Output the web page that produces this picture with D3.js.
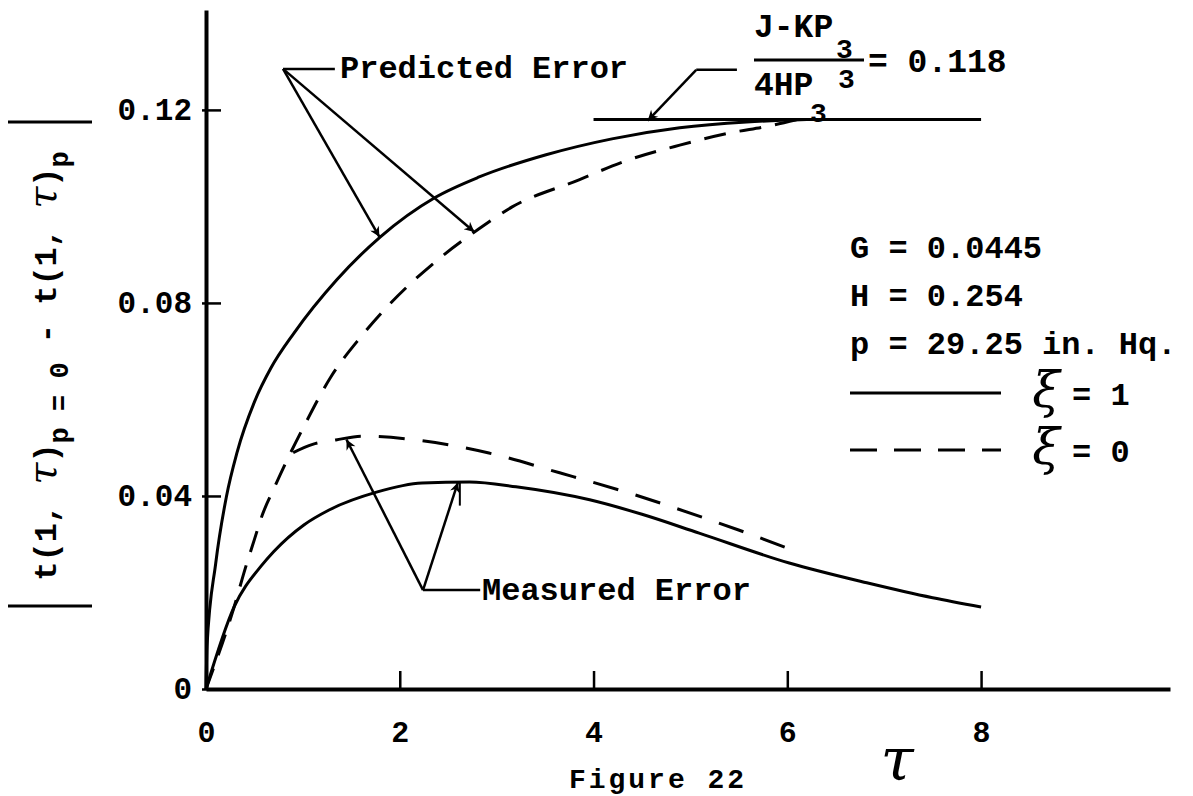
<!DOCTYPE html>
<html>
<head>
<meta charset="utf-8">
<script src="https://cdn.jsdelivr.net/npm/d3@7"></script>
<style>
  body { margin: 0; background: #fff; }
  text { font-family: 'Liberation Mono', 'DejaVu Sans Mono', monospace; font-weight: bold; fill: #000; }
</style>
</head>
<body>
<div id="chart"></div>
<script>
// Datos
const xTicks = [0, 2, 4, 6, 8];
const yTicks = [0, 0.04, 0.08, 0.12];
const asymptote = 0.118;
const asymptoteRange = [4, 8];

// Predicted error, xi = 1 (solid)
const predictedXi1 = [[0,0],[0.01,0.0087],[0.1,0.026],[0.21,0.0398],[0.32,0.049],[0.5,0.0595],[0.67,0.0665],
  [0.91,0.0738],[1.35,0.0848],[1.8,0.0937],[2.36,0.1018],[2.82,0.1061],[3.51,0.1107],[4.19,0.114],
  [4.89,0.1163],[5.58,0.1175],[6.2,0.118]];
// Predicted error, xi = 0 (dashed)
const predictedXi0 = [[0,0],[0.29,0.017],[0.41,0.0253],[0.5,0.031],[0.58,0.036],[0.7,0.0415],[0.85,0.048],
  [1.0,0.054],[1.29,0.0647],[1.6,0.073],[1.87,0.0792],[2.39,0.0889],[2.8,0.0951],[3.16,0.0999],
  [3.85,0.1055],[4.3,0.1092],[4.89,0.1127],[5.4,0.1152],[5.82,0.1167],[6.1,0.118]];
// Measured error, xi = 1 (solid)
const measuredXi1 = [[0,0],[0.29,0.017],[0.57,0.0255],[0.7,0.0285],[1.01,0.034],[1.27,0.0371],[1.76,0.0408],
  [2.23,0.0427],[2.72,0.0429],[3.2,0.0419],[3.96,0.0392],[4.5,0.0362],[5.09,0.0323],[6.02,0.0261],
  [6.82,0.022],[7.5,0.0189],[8.0,0.017]];
// Measured error, xi = 0 (dashed)
const measuredXi0 = [[0.9,0.049],[1.1,0.0507],[1.34,0.0516],[1.61,0.0524],[2.17,0.0516],[2.92,0.0489],
  [3.65,0.0448],[4.4,0.0404],[5.12,0.0356],[5.49,0.033],[6.05,0.0288]];

const svgWidth = 1193, svgHeight = 796;

const svg = d3.select("#chart")
    .append("svg")
    .attr("width", svgWidth)
    .attr("height", svgHeight);

const x = d3.scaleLinear().domain([0, 9.95]).range([206, 1170]);
const y = d3.scaleLinear().domain([0, 0.1407]).range([689, 10]);

// flechas
svg.append("defs").append("marker")
    .attr("id", "arrow")
    .attr("viewBox", "0 0 10 10")
    .attr("refX", 10).attr("refY", 5)
    .attr("markerWidth", 16).attr("markerHeight", 10)
    .attr("markerUnits", "userSpaceOnUse")
    .attr("orient", "auto")
    .append("path")
    .attr("d", "M0,0 L10,5 L0,10 L3,5 z")
    .attr("fill", "#000");

// ejes
const xAxis = svg.append("g")
    .attr("transform", `translate(0, ${y(0)})`)
    .call(d3.axisBottom(x).tickValues(xTicks).tickSizeInner(-18).tickSizeOuter(0).tickPadding(32)
        .tickFormat(d3.format("d")));
xAxis.select(".domain").attr("stroke-width", 4);
xAxis.selectAll(".tick line").attr("stroke-width", 2.5);
xAxis.selectAll(".tick text").attr("font-size", 30);

const yAxis = svg.append("g")
    .attr("transform", `translate(${x(0)}, 0)`)
    .call(d3.axisLeft(y).tickValues(yTicks).tickSizeInner(-15).tickSizeOuter(0).tickPadding(14)
        .tickFormat(d => d === 0 ? "0" : d.toFixed(2)));
yAxis.select(".domain").attr("stroke-width", 4);
yAxis.selectAll(".tick line").attr("stroke-width", 2.5).attr("x1", -4);
yAxis.selectAll(".tick text").attr("font-size", 31);
svg.selectAll(".tick text").style("font-family", "'Liberation Mono', monospace").style("font-weight", "bold");

// curvas
const line = d3.line()
    .x(d => x(d[0]))
    .y(d => y(d[1]))
    .curve(d3.curveMonotoneX);

const series = [
  { data: predictedXi1, dash: null },
  { data: predictedXi0, dash: "22,14" },
  { data: measuredXi1, dash: null },
  { data: measuredXi0, dash: "26,18" }
];

svg.selectAll(".curve")
    .data(series)
    .enter().append("path")
    .attr("class", "curve")
    .attr("d", d => line(d.data))
    .attr("fill", "none")
    .attr("stroke", "#000")
    .attr("stroke-width", 3)
    .attr("stroke-dasharray", d => d.dash);

// asintota 0.118
svg.append("line")
    .attr("x1", x(asymptoteRange[0])).attr("x2", x(asymptoteRange[1]))
    .attr("y1", y(asymptote)).attr("y2", y(asymptote))
    .attr("stroke", "#000").attr("stroke-width", 3);

// anotaciones
function leader(root, end) {
  svg.append("line")
      .attr("x1", x(root[0])).attr("y1", y(root[1]))
      .attr("x2", x(end)).attr("y2", y(root[1]))
      .attr("stroke", "#000").attr("stroke-width", 2.5);
}
function arrow(root, tip) {
  svg.append("line")
      .attr("x1", x(root[0])).attr("y1", y(root[1]))
      .attr("x2", x(tip[0])).attr("y2", y(tip[1]))
      .attr("stroke", "#000").attr("stroke-width", 2.5)
      .attr("marker-end", "url(#arrow)");
}

const predRoot = [0.795, 0.1285];
leader(predRoot, 1.33);
arrow(predRoot, [1.79, 0.0937]);
arrow(predRoot, [2.77, 0.0947]);
svg.append("text").attr("x", 340).attr("y", 78).attr("font-size", 32).text("Predicted Error");

const measRoot = [2.24, 0.0205];
leader(measRoot, 2.83);
arrow(measRoot, [1.45, 0.0517]);
arrow(measRoot, [2.6, 0.0428]);
svg.append("line")
    .attr("x1", x(2.62)).attr("x2", x(2.62))
    .attr("y1", y(0.0428)).attr("y2", y(0.038))
    .attr("stroke", "#000").attr("stroke-width", 2);
svg.append("text").attr("x", 482).attr("y", 600).attr("font-size", 32).text("Measured Error");

const asymRoot = [5.06, 0.1283];
leader(asymRoot, 5.48);
arrow(asymRoot, [4.56, 0.1178]);

// fraccion (J-KP3)/(4HP3)
svg.append("text").attr("x", 754).attr("y", 37).attr("font-size", 33).text("J-KP");
svg.append("text").attr("x", 836).attr("y", 58).attr("font-size", 28).text("3");
svg.append("line").attr("x1", 754).attr("x2", 864).attr("y1", 60).attr("y2", 60)
    .attr("stroke", "#000").attr("stroke-width", 3);
svg.append("text").attr("x", 838).attr("y", 88).attr("font-size", 28).text("3");
svg.append("text").attr("x", 754).attr("y", 95).attr("font-size", 33).text("4HP");
svg.append("text").attr("x", 810).attr("y", 122).attr("font-size", 28).text("3");
svg.append("text").attr("x", 868).attr("y", 72).attr("font-size", 33).text("= 0.118");

// leyenda
const legendRows = ["G = 0.0445", "H = 0.254", "p = 29.25 in. Hq."];
svg.selectAll(".legend-row")
    .data(legendRows)
    .enter().append("text")
    .attr("class", "legend-row")
    .attr("x", 850)
    .attr("y", (d, i) => 258 + i * 48)
    .attr("font-size", 32)
    .text(d => d);

const legendKeys = [{ label: "= 1", dash: null, yy: 393 }, { label: "= 0", dash: "27,17", yy: 450 }];
const lg = svg.selectAll(".legend-key")
    .data(legendKeys)
    .enter().append("g")
    .attr("transform", d => `translate(0, ${d.yy})`);
lg.append("line")
    .attr("x1", 850).attr("x2", 1001)
    .attr("stroke", "#000").attr("stroke-width", 3)
    .attr("stroke-dasharray", d => d.dash);
lg.append("text")
    .attr("x", 1046).attr("y", 14)
    .attr("text-anchor", "middle")
    .attr("font-size", 50)
    .style("font-family", "'DejaVu Serif', serif")
    .style("font-style", "italic")
    .style("font-weight", "normal")
    .text("\u03BE");
lg.append("text")
    .attr("x", 1072).attr("y", 12)
    .attr("font-size", 32)
    .text(d => d.label);

// titulo eje x
svg.append("text")
    .attr("x", 897).attr("y", 780)
    .attr("text-anchor", "middle")
    .attr("font-size", 60)
    .style("font-family", "'DejaVu Serif', serif")
    .style("font-style", "italic")
    .style("font-weight", "normal")
    .text("\u03C4");
svg.append("text")
    .attr("x", 658).attr("y", 788)
    .attr("text-anchor", "middle")
    .attr("font-size", 28)
    .attr("letter-spacing", 3)
    .text("Figure 22");

// titulo eje y
const ylab = svg.append("text")
    .attr("transform", "translate(56, 366) rotate(-90)")
    .attr("text-anchor", "middle")
    .attr("font-size", 32);
ylab.append("tspan").text("t(1, ");
ylab.append("tspan").style("font-family", "'DejaVu Serif', serif").style("font-style", "italic").style("font-weight", "normal").attr("font-size", 40).text("\u03C4");
ylab.append("tspan").text(")");
ylab.append("tspan").attr("dy", 12).attr("font-size", 27).text("p = 0");
ylab.append("tspan").attr("dy", -12).text(" - t(1, ");
ylab.append("tspan").style("font-family", "'DejaVu Serif', serif").style("font-style", "italic").style("font-weight", "normal").attr("font-size", 40).text("\u03C4");
ylab.append("tspan").text(")");
ylab.append("tspan").attr("dy", 12).attr("font-size", 27).text("p");

[122, 606].forEach(yy => {
  svg.append("line").attr("x1", 8).attr("x2", 92).attr("y1", yy).attr("y2", yy)
      .attr("stroke", "#000").attr("stroke-width", 3);
});
</script>
</body>
</html>
